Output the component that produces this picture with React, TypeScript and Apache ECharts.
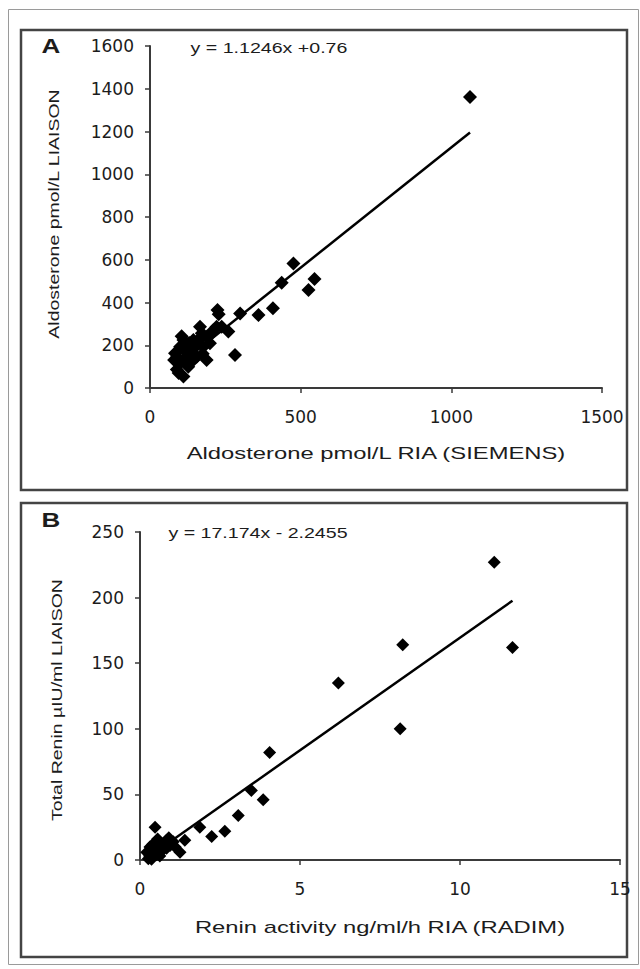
import React, { useEffect, useRef } from "react";
import * as echarts from "echarts";

// Panel A: Aldosterone pmol/L, RIA (SIEMENS) vs LIAISON
const aldoRIA = [1062, 476, 546, 526, 437, 408, 360, 299, 224, 228, 260, 282, 188,
  105, 83, 94, 111, 133, 160, 172, 188, 205, 221, 238, 144, 122, 155, 100, 177, 89,
  127, 80, 111, 144, 199, 166, 95, 118, 150, 210, 90, 130, 175, 102];
const aldoLIAISON = [1361, 583, 510, 458, 492, 373, 341, 349, 365, 345, 264, 154, 131,
  242, 162, 115, 54, 178, 225, 256, 240, 256, 287, 287, 131, 146, 146, 193, 193, 86,
  100, 131, 225, 225, 209, 287, 70, 170, 200, 270, 145, 210, 160, 120];
const aldoSlope = 1.1246;
const aldoIntercept = 0.76;
const aldoXTicks = { min: 0, max: 1500, interval: 500 };
const aldoYTicks = { min: 0, max: 1600, interval: 200 };

// Panel B: Renin activity ng/ml/h RIA (RADIM) vs Total renin µIU/ml LIAISON
const reninRIA = [11.07, 8.21, 11.64, 8.13, 6.2, 4.05, 3.48, 3.85, 3.07, 2.65, 2.24, 1.87,
  0.47, 1.25, 1.4, 1.04, 0.83, 0.62, 0.31, 0.42, 0.26, 0.73, 0.52, 0.94, 0.21, 0.36,
  0.62, 0.83, 0.3, 0.5, 0.7, 1.1, 0.4, 0.55, 0.9];
const reninLIAISON = [227, 164, 162, 100, 135, 82, 53, 46, 34, 22, 18, 25,
  25, 6, 15, 14, 15, 13, 10, 5, 1, 8, 4, 11, 6, 0.5,
  3, 9, 3, 8, 12, 10, 12, 16, 17];
const reninSlope = 17.174;
const reninIntercept = -2.2455;
const reninXTicks = { min: 0, max: 15, interval: 5 };
const reninYTicks = { min: 0, max: 250, interval: 50 };

const eqA = "y = 1.1246x +0.76";
const eqB = "y = 17.174x - 2.2455";
const titleAX = "Aldosterone pmol/L RIA (SIEMENS)";
const titleAY = "Aldosterone pmol/L LIAISON";
const titleBX = "Renin activity ng/ml/h RIA (RADIM)";
const titleBY = "Total Renin µIU/ml LIAISON";

const INK = "#1c1c1c";
const AXIS = "#3a3a3a";
const SANS = "'Liberation Sans', Arial, sans-serif";

function fitLine(xs: number[], m: number, b: number) {
  const lo = Math.min(...xs);
  const hi = Math.max(...xs);
  return [[lo, m * lo + b], [hi, m * hi + b]];
}

function axisCommon(extra: any, isX: boolean) {
  return {
    type: "value",
    ...extra,
    axisLine: { show: true, onZero: false, lineStyle: { color: AXIS, width: 2 } },
    axisTick: { show: true, length: 5, lineStyle: { color: AXIS, width: 1.5 } },
    splitLine: { show: false },
    axisLabel: {
      color: INK,
      fontFamily: "'DejaVu Sans', sans-serif",
      fontSize: 17,
      margin: isX ? 20 : 16,
      formatter: (v: number) => String(v),
    },
  };
}

function txt(text: string, x: number, y: number, size: number, opts: any = {}) {
  return {
    type: "text",
    x,
    y,
    scaleX: opts.scaleX ?? 1,
    scaleY: opts.scaleY ?? 1,
    rotation: opts.rotation ?? 0,
    silent: true,
    style: {
      text,
      fill: INK,
      font: `${opts.bold ? "bold " : ""}${size}px ${SANS}`,
      textAlign: "center",
      textVerticalAlign: "middle",
    },
  };
}

export default function App() {
  const ref = useRef<HTMLDivElement>(null);
  useEffect(() => {
    document.body.style.margin = "0";
    if (!ref.current) return;
    const chart = echarts.init(ref.current, undefined, { renderer: "svg" });
    const diamond = { color: "#000", opacity: 1 };
    chart.setOption({
      animation: false,
      backgroundColor: "#fff",
      grid: [
        { left: 150, top: 46, width: 452, height: 342 },
        { left: 140, top: 532, width: 480, height: 328 },
      ],
      xAxis: [
        axisCommon({ gridIndex: 0, ...aldoXTicks }, true),
        axisCommon({ gridIndex: 1, ...reninXTicks }, true),
      ],
      yAxis: [
        axisCommon({ gridIndex: 0, ...aldoYTicks }, false),
        axisCommon({ gridIndex: 1, ...reninYTicks }, false),
      ],
      series: [
        {
          type: "scatter",
          xAxisIndex: 0,
          yAxisIndex: 0,
          symbol: "diamond",
          symbolSize: 14,
          itemStyle: diamond,
          data: aldoRIA.map((x, i) => [x, aldoLIAISON[i]]),
        },
        {
          type: "line",
          xAxisIndex: 0,
          yAxisIndex: 0,
          symbol: "none",
          lineStyle: { color: "#000", width: 2.5 },
          data: fitLine(aldoRIA, aldoSlope, aldoIntercept),
          z: 3,
        },
        {
          type: "scatter",
          xAxisIndex: 1,
          yAxisIndex: 1,
          symbol: "diamond",
          symbolSize: 13,
          itemStyle: diamond,
          data: reninRIA.map((x, i) => [x, reninLIAISON[i]]),
        },
        {
          type: "line",
          xAxisIndex: 1,
          yAxisIndex: 1,
          symbol: "none",
          lineStyle: { color: "#000", width: 2.5 },
          data: fitLine(reninRIA, reninSlope, reninIntercept),
          z: 3,
        },
      ],
      graphic: [
        {
          type: "rect",
          silent: true,
          shape: { x: 8.5, y: 9.5, width: 630, height: 955 },
          style: { fill: "none", stroke: "#9a9a9a", lineWidth: 1 },
        },
        {
          type: "rect",
          silent: true,
          shape: { x: 21, y: 30, width: 606, height: 460 },
          style: { fill: "none", stroke: "#444", lineWidth: 2.5 },
        },
        {
          type: "rect",
          silent: true,
          shape: { x: 21, y: 503, width: 606, height: 454 },
          style: { fill: "none", stroke: "#444", lineWidth: 2.5 },
        },
        txt("A", 51, 46, 20, { bold: true, scaleX: 1.3 }),
        txt("B", 51, 520, 20, { bold: true, scaleX: 1.3 }),
        txt(eqA, 269, 48, 14, { scaleX: 1.4 }),
        txt(eqB, 258, 533, 14, { scaleX: 1.4 }),
        txt(titleAX, 376, 453, 17, { scaleX: 1.4 }),
        txt(titleBX, 380, 927, 17, { scaleX: 1.4 }),
        txt(titleAY, 54, 214, 15, { rotation: Math.PI / 2, scaleX: 1.3 }),
        txt(titleBY, 57, 700, 15, { rotation: Math.PI / 2, scaleX: 1.3 }),
      ],
    });
    return () => chart.dispose();
  }, []);
  return <div ref={ref} style={{ width: 640, height: 969 }} />;
}
